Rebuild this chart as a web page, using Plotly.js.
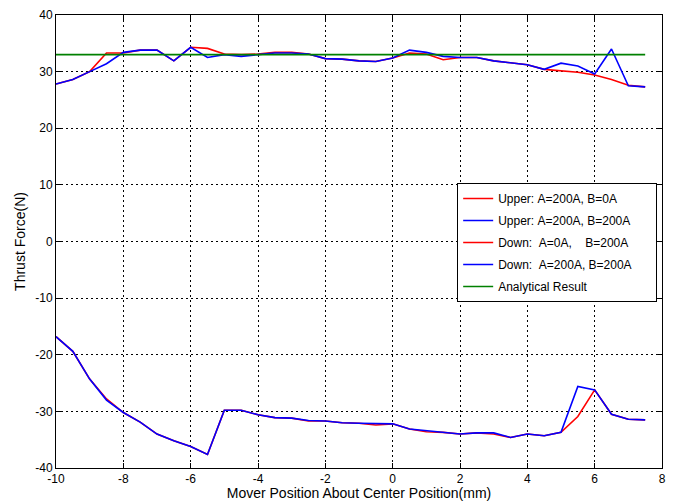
<!DOCTYPE html>
<html>
<head>
<meta charset="utf-8">
<script src="https://cdn.plot.ly/plotly-3.0.1.min.js"></script>
<style>html,body{margin:0;padding:0;background:#fff;}#chart{width:675px;height:501px;}</style>
</head>
<body>
<div id="chart"></div>
<script>
var positions = [-10,-9.5,-9,-8.5,-8,-7.5,-7,-6.5,-6,-5.5,-5,-4.5,-4,-3.5,-3,-2.5,-2,-1.5,-1,-0.5,0,0.5,1,1.5,2,2.5,3,3.5,4,4.5,5,5.5,6,6.5,7,7.5];
var upperA200B0 = [27.8,28.6,30.0,33.3,33.3,33.8,33.8,31.9,34.3,34.1,33.1,33.0,33.1,33.4,33.4,33.1,32.3,32.2,31.9,31.8,32.4,33.3,33.1,32.1,32.5,32.5,31.9,31.5,31.2,30.4,30.2,29.9,29.4,28.6,27.6,27.3];
var upperA200B200 = [27.8,28.6,30.0,31.4,33.4,33.8,33.8,31.9,34.3,32.5,33.0,32.7,33.0,33.3,33.3,33.1,32.3,32.2,31.9,31.8,32.4,33.8,33.4,32.7,32.5,32.5,31.9,31.5,31.2,30.4,31.5,31.0,29.6,34.0,27.5,27.3];
var downA0B200 = [-16.8,-19.4,-24.3,-27.8,-30.2,-31.9,-34.0,-35.2,-36.2,-37.6,-29.8,-29.8,-30.6,-31.1,-31.2,-31.7,-31.7,-32.0,-32.1,-32.4,-32.2,-33.1,-33.6,-33.7,-34.0,-33.8,-34.0,-34.6,-34.0,-34.3,-33.7,-30.9,-26.2,-30.5,-31.4,-31.5];
var downA200B200 = [-16.8,-19.4,-24.3,-28.0,-30.2,-31.9,-34.0,-35.2,-36.2,-37.6,-29.8,-29.8,-30.6,-31.1,-31.2,-31.6,-31.7,-32.0,-32.1,-32.2,-32.2,-33.1,-33.4,-33.7,-34.0,-33.8,-33.8,-34.6,-34.0,-34.3,-33.7,-25.6,-26.2,-30.5,-31.4,-31.5];
var analyticalX = [-10, 7.5];
var analyticalY = [33, 33];
var names = ["Upper: A=200A, B=0A", "Upper: A=200A, B=200A", "Down:  A=0A,    B=200A", "Down:  A=200A, B=200A", "Analytical Result"];
var xTicks = [-10,-8,-6,-4,-2,0,2,4,6,8];
var yTicks = [-40,-30,-20,-10,0,10,20,30,40];

function nb(s){ return s.replace(/ /g, "\u00A0"); }
function tr(x, y, name, color, grp){
  return {x:x, y:y, name:nb(name), type:'scatter', mode:'lines', line:{color:color, width:1.6}, legendgroup:grp};
}
var data = [
  tr(positions, upperA200B0, names[0], '#ff0000', 'a'),
  tr(positions, upperA200B200, names[1], '#0000ff', 'b'),
  tr(positions, downA0B200, names[2], '#ff0000', 'c'),
  tr(positions, downA200B200, names[3], '#0000ff', 'd'),
  tr(analyticalX, analyticalY, names[4], '#008000', 'e')
];
// widen legend box a bit (reference has extra right padding)
data[1].name = data[1].name + "\u00A0\u00A0\u00A0\u00A0\u00A0\u00A0";
var axisCommon = {
  showline:true, linecolor:'#000', linewidth:1, mirror:'allticks',
  ticks:'inside', ticklen:5, tickcolor:'#000',
  showgrid:true, gridcolor:'#000', gridwidth:1, griddash:'2px,3px',
  zeroline:false, tickfont:{family:'Liberation Sans, Arial', size:12, color:'#000'}
};
var layout = {
  width:675, height:501,
  margin:{l:56, r:13, t:15, b:33},
  paper_bgcolor:'#fff', plot_bgcolor:'#fff',
  showlegend:true,
  legend:{x:0.662, y:0.629, xanchor:'left', yanchor:'top', bgcolor:'#fff', bordercolor:'#000', borderwidth:1,
          font:{family:'Liberation Sans, Arial', size:12, color:'#000'}, tracegroupgap:3, traceorder:'grouped'},
  xaxis:Object.assign({}, axisCommon, {range:[-10,8], tickvals:xTicks, ticktext:xTicks.map(String),
        title:{text:'Mover Position About Center Position(mm)', font:{family:'Liberation Sans, Arial', size:14, color:'#000'}, standoff:2}}),
  yaxis:Object.assign({}, axisCommon, {range:[-40,40], tickvals:yTicks, ticktext:yTicks.map(String),
        title:{text:'Thrust Force(N)', font:{family:'Liberation Sans, Arial', size:14, color:'#000'}, standoff:6}})
};
Plotly.newPlot('chart', data, layout, {displayModeBar:false, staticPlot:true});
</script>
</body>
</html>
